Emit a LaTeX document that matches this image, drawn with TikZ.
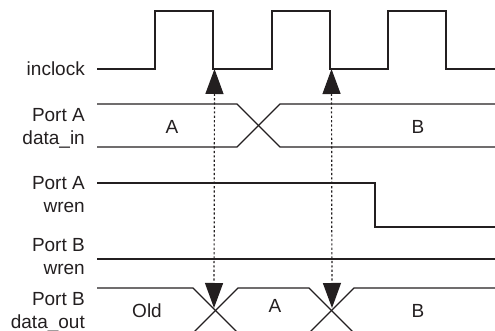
\documentclass[tikz,border=0pt]{standalone}
\usepackage{fontspec}
\setmainfont{Liberation Sans}
\usepackage{xcolor}
\usetikzlibrary{positioning, arrows.meta, calc}
\definecolor{tdInk}{HTML}{231F20}
\tikzset{
  signal/.style={
    draw=tdInk, line width=1.3pt, line join=miter
  },
  busline/.style={
    draw=tdInk, line width=1.2pt
  },
  syncarrow/.style={
    {Triangle[length=25pt, width=18pt]}-{Triangle[length=25pt, width=18pt]},
    tdInk, line width=1.2pt, dash pattern=on 2.2pt off 2.2pt
  },
  siglabel/.style={
    anchor=east, align=right, inner sep=0pt,
    font=\fontsize{19}{23}\selectfont, text=tdInk
  },
  buslabel/.style={
    inner sep=0pt, font=\fontsize{19}{23}\selectfont, text=tdInk
  }
}
\begin{document}
\begin{tikzpicture}[x=1pt, y=-1pt]
  \useasboundingbox (0,0) rectangle (495,331);
  % signal names
  \node[siglabel] (lclk) at (85,69) {inclock};
  \node[siglabel] (ldin) at (85,128) {Port A\\data\_in};
  \node[siglabel] (lwra) at (85,195) {Port A\\wren};
  \node[siglabel] (lwrb) at (85,257) {Port B\\wren};
  \node[siglabel] (ldout) at (85,312) {Port B\\data\_out};
  % clock
  \draw[signal] (97,69) -- (155,69) -- (155,11) -- (213,11) -- (213,69) coordinate (fallA)
    -- (272,69) -- (272,11) -- (330,11) -- (330,69) coordinate (fallB)
    -- (388,69) -- (388,11) -- (446,11) -- (446,69) -- (495,69);
  % Port A data_in
  \draw[busline] (97,104) -- (237,104) -- (280,147) -- (495,147);
  \draw[busline] (97,147) -- (237,147) -- (280,104) -- (495,104);
  \node[buslabel] (din1) at (172,127) {A};
  \node[buslabel] (din2) at (418,127) {B};
  % Port A wren
  \draw[signal] (97,183) -- (375,183) -- (375,227) -- (495,227);
  % Port B wren
  \draw[signal] (97,259) -- (495,259);
  % Port B data_out
  \draw[busline] (97,288) -- (193,288) -- (238,333);
  \draw[busline] (193,333) -- (238,288) -- (309,288) -- (354,333);
  \draw[busline] (309,333) -- (354,288) -- (495,288);
  \coordinate (xingA) at (214,308);
  \coordinate (xingB) at (332,308);
  \node[buslabel] (dout1) at (147,311) {Old};
  \node[buslabel] (dout2) at (275,306) {A};
  \node[buslabel] (dout3) at (418,311) {B};
  % read timing
  \foreach \f/\x in {fallA/xingA, fallB/xingB} {
    \draw[syncarrow] ($(\f)+(1.5,0)$) -- (\x);
  }
\end{tikzpicture}
\end{document}
